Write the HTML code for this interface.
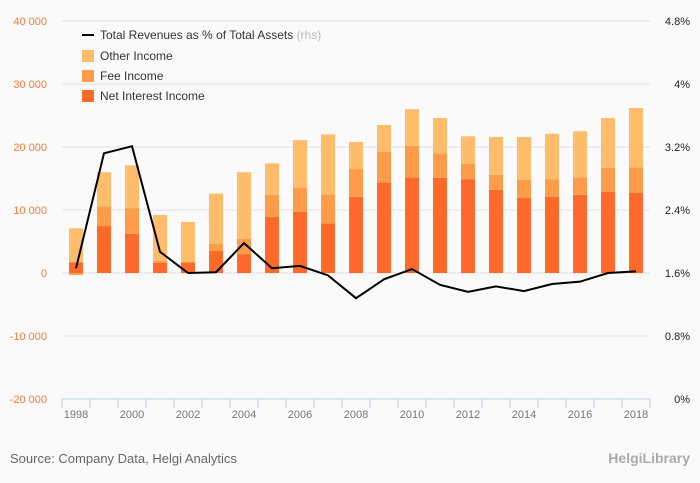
<!DOCTYPE html>
<html><head><meta charset="utf-8"><style>
body{margin:0;background:#fafafa;font-family:"Liberation Sans",sans-serif;}
svg{display:block}
</style></head><body>
<svg width="700" height="483" xmlns="http://www.w3.org/2000/svg">
<rect width="700" height="483" fill="#fafafa"/>
<g id="grid"></g><g id="bars"></g><g id="line"></g><g id="axes"></g>
<g font-size="12" fill="#333">
<line x1="82" y1="35" x2="94" y2="35" stroke="#000" stroke-width="2"/>
<text x="100" y="39">Total Revenues as % of Total Assets <tspan fill="#bbb">(rhs)</tspan></text>
<rect x="82" y="50" width="12" height="12" fill="#ffbd6c"/>
<text x="100" y="60">Other Income</text>
<rect x="82" y="70" width="12" height="12" fill="#ff9c4a"/>
<text x="100" y="80">Fee Income</text>
<rect x="82" y="90" width="12" height="12" fill="#ff6a2a"/>
<text x="100" y="100">Net Interest Income</text>
</g>
<text x="10" y="463" font-size="13" fill="#666">Source: Company Data, Helgi Analytics</text>
<text x="690" y="463" font-size="14" font-weight="bold" fill="#aaa" text-anchor="end">HelgiLibrary</text>
</svg>
<script>
const years=[1998,1999,2000,2001,2002,2003,2004,2005,2006,2007,2008,2009,2010,2011,2012,2013,2014,2015,2016,2017,2018];
const nii=[1700,7450,6200,1600,1700,3500,3000,8900,9700,7900,12100,14400,15200,15100,14900,13200,11900,12100,12400,12900,12700];
const fee=[-300,3150,4100,300,0,1100,2400,3500,3800,4600,4400,4800,5000,3900,2400,2400,2900,2800,2800,3800,4100];
const other=[5400,5400,6800,7300,6400,8000,10600,5000,7600,9500,4300,4300,5800,5600,4400,6000,6800,7200,7300,7900,9400];
const ratio=[1.66,3.12,3.21,1.87,1.60,1.61,1.98,1.66,1.69,1.57,1.28,1.52,1.65,1.45,1.36,1.43,1.37,1.46,1.49,1.60,1.62];
const leftTicks=[40000,30000,20000,10000,0,-10000,-20000];
const leftLabels=["40 000","30 000","20 000","10 000","0","-10 000","-20 000"];
const rightLabels=["4.8%","4%","3.2%","2.4%","1.6%","0.8%","0%"];
const NS="http://www.w3.org/2000/svg";
const yL=v=>273-v*0.0063;
const yR=p=>399-p*78.75;
const xC=i=>76+i*28;
function mk(t,a,p){const e=document.createElementNS(NS,t);for(const k in a)e.setAttribute(k,a[k]);p.appendChild(e);return e;}
const grid=document.getElementById('grid'),axes=document.getElementById('axes');
leftTicks.forEach((v,i)=>{
 const y=yL(v);
 if(i<6){const l=mk('line',{x1:62,x2:650,y1:y,y2:y,stroke:'#e3e3e3'},grid);
 
 }
 const t=mk('text',{x:47,y:y+4,'font-size':11,fill:'#f57a3d','text-anchor':'end'},axes);t.textContent=leftLabels[i];
 
 
 const r=mk('text',{x:690,y:y+4,'font-size':11,fill:'#222','text-anchor':'end'},axes);r.textContent=rightLabels[i];
 
 
});
const ax=mk('line',{x1:62,x2:650,y1:399,y2:399,stroke:'#c5d3e8'},axes);


for(let i=0;i<=years.length;i++){mk('line',{x1:62+i*28,x2:62+i*28,y1:399,y2:408,stroke:'#c5d3e8'},axes);}
years.forEach((yr,i)=>{if(i%2===0){const t=mk('text',{x:xC(i),y:418,'font-size':11,fill:'#777','text-anchor':'middle'},axes);t.textContent=yr;
 
 }});
const bars=document.getElementById('bars');
years.forEach((yr,i)=>{
 let pos=0,neg=0;
 [[nii[i],'#ff6a2a','bar-nii'],[fee[i],'#ff9c4a','bar-fee'],[other[i],'#ffbd6c','bar-other']].forEach(([v,c,n])=>{
  let a,b;
  if(v>=0){a=pos;b=pos+v;pos=b;}else{a=neg+v;b=neg;neg=a;}
  const r=mk('rect',{x:xC(i)-7,width:14,y:yL(b),height:Math.max(0,yL(a)-yL(b)),fill:c},bars);
  
  
 });
});
const pl=mk('polyline',{points:ratio.map((p,i)=>xC(i)+','+yR(p)).join(' '),fill:'none',stroke:'#000','stroke-width':2},document.getElementById('line'));


</script>
</body></html>
